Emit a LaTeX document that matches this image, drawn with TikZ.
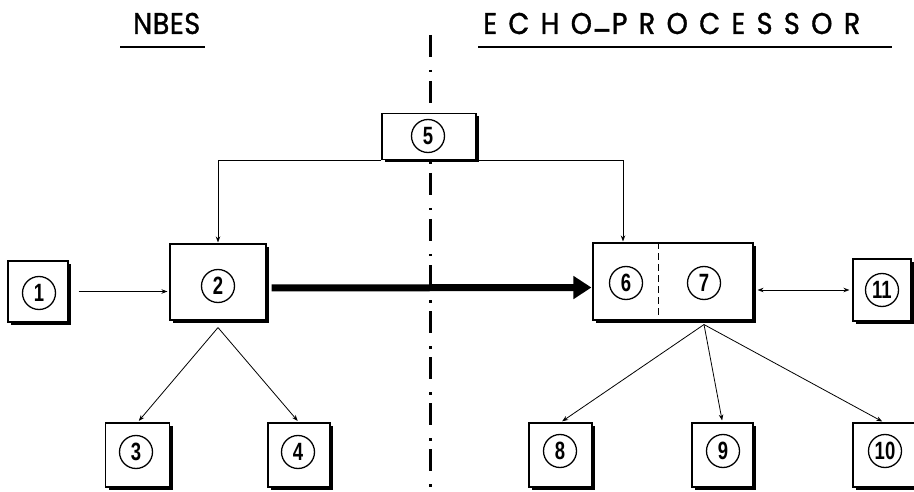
\documentclass[tikz,border=0pt]{standalone}
\usepackage{fontspec}
\setmainfont{Liberation Sans}
\newfontfamily\headfontA[LetterSpace=2,FakeBold=1.2,FakeStretch=0.9]{Poppins}
\newfontfamily\headfontB[LetterSpace=38,FakeBold=1.2,FakeStretch=0.9]{Poppins}
\newfontfamily\numfont[FakeStretch=0.74]{Liberation Sans}
\usetikzlibrary{arrows.meta,shadows}

\tikzset{
  box/.style={draw, line width=1.1pt, fill=white, inner sep=0pt,
    drop shadow={shadow xshift=3pt, shadow yshift=-3pt, fill=black, opacity=1}},
  num/.style={circle, draw, line width=1.3pt, minimum size=33pt, inner sep=0pt,
    font=\numfont\bfseries\fontsize{25}{25}\selectfont},
  arr/.style={line width=0.8pt, -{Stealth[length=6pt,width=4.5pt]}},
  arrboth/.style={line width=0.8pt, {Stealth[length=6pt,width=4.5pt]}-{Stealth[length=6pt,width=4.5pt]}},
  bigarr/.style={line width=7pt, -{Triangle[length=18pt,width=22pt]}},
  divider/.style={line width=3.3pt, dash pattern=on 22pt off 13pt on 2.5pt off 8.5pt},
  heading/.style={inner sep=0pt, anchor=base west},
  rule/.style={line width=2.8pt}
}

\begin{document}
\begin{tikzpicture}[x=1pt, y=-1pt]
\useasboundingbox (0,0) rectangle (914,492);

% headings
\node[heading, font=\headfontA\fontsize{30}{30}\selectfont] (hl) at (133,34) {NBES};
\node[heading, font=\headfontB\fontsize{30}{30}\selectfont] (hr) at (483,34) {ECHO\raisebox{0.2em}{\_}PROCESSOR};
\coordinate (ul1) at (120,47); \coordinate (ul2) at (205,47);
\coordinate (ur1) at (478,47); \coordinate (ur2) at (892,47);
\draw[rule] (ul1) -- (ul2);
\draw[rule] (ur1) -- (ur2);

% dash-dot separator
\coordinate (dtop) at (430.5,35);
\coordinate (dbot) at (430.5,500);
\draw[divider] (dtop) -- (dbot);

% boxes
\node[box, minimum width=60pt, minimum height=61pt] (b1) at (38,291.5) {};
\node[box, minimum width=96pt, minimum height=76pt] (b2) at (218,282) {};
\node[box, minimum width=94pt, minimum height=46pt] (b5) at (429,136.5) {};
\node[box, minimum width=160pt, minimum height=77pt] (b67) at (673,281.5) {};
\node[box, minimum width=58pt, minimum height=62pt] (b11) at (882,290) {};
\node[box, minimum width=64pt, minimum height=64pt] (b3) at (137.5,455) {};
\node[box, minimum width=62pt, minimum height=64pt] (b4) at (299,455) {};
\node[box, minimum width=63pt, minimum height=64pt] (b8) at (560.5,455) {};
\node[box, minimum width=61pt, minimum height=64pt] (b9) at (722.5,455) {};
\node[box, minimum width=62pt, minimum height=64pt] (b10) at (884,455) {};

% dashed split between 6 and 7
\draw[line width=1pt, dash pattern=on 7pt off 4pt]
  ([xshift=-15pt]b67.north) -- ([xshift=-15pt]b67.south);

% numbered circles
\node[num] (c1) at (39,293) {1};
\node[num] (c2) at (218,286) {2};
\node[num] (c5) at (428,136) {5};
\node[num] (c6) at (626,283) {6};
\node[num] (c7) at (704,283) {7};
\node[num] (c11) at (882,290) {11};
\node[num] (c3) at (136,452) {3};
\node[num] (c4) at (298,452) {4};
\node[num] (c8) at (560,451) {8};
\node[num] (c9) at (723,451) {9};
\node[num] (c10) at (885,451) {10};

% connectors
\draw[arr, shorten <=10pt, shorten >=2pt] (b1.east) -- (b1.east -| b2.west);
\draw[arr, shorten >=1pt] (b5.south west) -| (b2.north);
\draw[arr, shorten >=1pt] (b5.south east) -| ([xshift=-3pt]c6 |- b67.north);
\draw[bigarr, shorten <=5pt, shorten >=1pt] ([yshift=-6pt]b2.east) -- ([yshift=-6pt]b67.west);
\draw[arrboth, shorten <=4pt, shorten >=3pt] (b11.west -| b67.east) -- (b11.west);

\coordinate (f2) at ([yshift=-7pt]b2.south);
\draw[arr, shorten >=2pt] (f2) -- (b3.north);
\draw[arr, shorten >=2pt] (f2) -- (b4.north);

\coordinate (f7) at ([yshift=-4pt]c7 |- b67.south);
\draw[arr, shorten >=2pt] (f7) -- (b8.north);
\draw[arr, shorten >=2pt] (f7) -- (b9.north);
\draw[arr, shorten >=2pt] (f7) -- (b10.north);
\end{tikzpicture}
\end{document}
